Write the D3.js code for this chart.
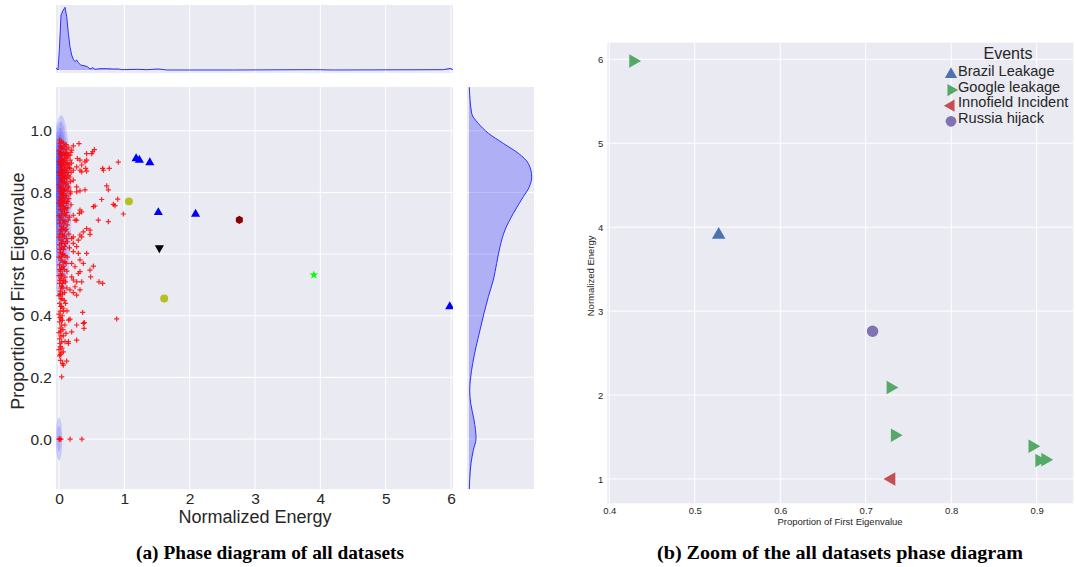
<!DOCTYPE html>
<html>
<head>
<meta charset="utf-8">
<script src="https://cdn.jsdelivr.net/npm/d3@7/dist/d3.min.js"></script>
<style>
    body { margin: 0; background: #fff; }
    svg text { font-family: "Liberation Sans", Arial, sans-serif; fill: #262626; }
    .caption { font-family: "Liberation Serif", "Times New Roman", serif !important; font-weight: bold; fill: #000 !important; }
</style>
</head>
<body>
<svg id="chart" width="1075" height="567"></svg>
<script>
// ---- tick labels
const energyTicks = [0, 1, 2, 3, 4, 5, 6];
const propTicks = [0.0, 0.2, 0.4, 0.6, 0.8, 1.0];
const zoomXTicks = [0.4, 0.5, 0.6, 0.7, 0.8, 0.9];
const zoomYTicks = [1, 2, 3, 4, 5, 6];

// ---- (a) all datasets: [normalized energy, proportion of first eigenvalue]
const plusCore = [
    [0.01,0.97],[0.04,0.965],[0.07,0.96],[0.02,0.95],[0.05,0.945],[0.09,0.95],[0.12,0.94],[0.0,0.935],
    [0.03,0.93],[0.06,0.925],[0.1,0.93],[0.14,0.92],[0.02,0.915],[0.05,0.91],[0.08,0.905],[0.11,0.91],
    [0.0,0.9],[0.03,0.895],[0.06,0.89],[0.13,0.895],[0.09,0.885],[0.02,0.88],[0.05,0.875],[0.16,0.88],
    [0.11,0.87],[0.0,0.865],[0.04,0.86],[0.07,0.855],[0.1,0.85],[0.14,0.855],[0.02,0.845],[0.05,0.84],
    [0.08,0.835],[0.12,0.83],[0.0,0.825],[0.03,0.82],[0.06,0.815],[0.09,0.81],[0.15,0.815],[0.01,0.805],
    [0.04,0.8],[0.07,0.795],[0.11,0.79],[0.02,0.785],[0.05,0.78],[0.08,0.775],[0.13,0.77],[0.0,0.765],
    [0.03,0.76],[0.06,0.755],[0.1,0.75],[0.02,0.745],[0.05,0.74],[0.08,0.73],[0.12,0.735],[0.0,0.725],
    [0.03,0.72],[0.06,0.71],[0.09,0.705],[0.14,0.71],[0.01,0.7],[0.04,0.69],[0.07,0.685],[0.11,0.68],
    [0.02,0.675],[0.05,0.665],[0.08,0.66],[0.0,0.655],[0.03,0.645],[0.06,0.64],[0.1,0.635],[0.13,0.64],
    [0.01,0.63],[0.04,0.62],[0.07,0.615],[0.02,0.605],[0.05,0.6],[0.09,0.595],[0.0,0.59],[0.03,0.58],
    [0.06,0.575],[0.11,0.57],[0.01,0.565],[0.04,0.555],[0.08,0.55],[0.02,0.545],[0.05,0.535],[0.0,0.53],
    [0.03,0.52],[0.07,0.515],[0.1,0.51],[0.01,0.505],[0.04,0.495],[0.06,0.49],[0.02,0.48],[0.05,0.47],
    [0.0,0.465],[0.03,0.455],[0.08,0.45],[0.01,0.44],[0.04,0.43],[0.06,0.425],[0.02,0.415],[0.0,0.405],
    [0.05,0.4],[0.03,0.39],[0.01,0.38],[0.04,0.37],[0.02,0.36],[0.06,0.355],[0.0,0.345],[0.03,0.335],
    [0.01,0.325],[0.04,0.315],[0.02,0.3],[0.0,0.29],[0.03,0.28],[0.01,0.27],
    [0.0,0.0],[0.01,0.0],[0.03,0.0],[0.17,0.0],[0.35,0.0]
];
const plusCoreOuter = [
    [0.015,0.96],[0.035,0.945],[0.075,0.94],[0.11,0.955],[0.15,0.945],[0.18,0.93],[0.015,0.925],[0.045,0.92],
    [0.085,0.92],[0.125,0.915],[0.17,0.905],[0.035,0.905],[0.07,0.9],[0.105,0.895],[0.15,0.89],[0.19,0.895],
    [0.015,0.89],[0.045,0.885],[0.08,0.875],[0.125,0.88],[0.185,0.865],[0.03,0.87],[0.06,0.865],[0.095,0.86],
    [0.135,0.865],[0.165,0.85],[0.015,0.855],[0.05,0.85],[0.085,0.845],[0.12,0.845],[0.175,0.835],[0.035,0.835],
    [0.065,0.83],[0.1,0.825],[0.14,0.82],[0.015,0.815],[0.045,0.81],[0.08,0.805],[0.125,0.805],[0.17,0.795],
    [0.03,0.795],[0.06,0.79],[0.095,0.785],[0.15,0.78],[0.015,0.775],[0.04,0.77],[0.07,0.765],[0.115,0.765],
    [0.185,0.76],[0.025,0.755],[0.085,0.745],[0.135,0.75],[0.045,0.73],[0.105,0.725],[0.16,0.72],[0.015,0.71],
    [0.075,0.7],[0.125,0.695],[0.035,0.68],[0.095,0.675],[0.15,0.665],[0.015,0.665],[0.06,0.655],[0.115,0.65],
    [0.04,0.635],[0.085,0.625],[0.16,0.62],[0.015,0.615],[0.06,0.6],[0.125,0.59],[0.035,0.59],[0.09,0.575],
    [0.015,0.55],[0.065,0.56],[0.12,0.545],[0.035,0.53],[0.09,0.525],[0.015,0.515],[0.055,0.505],[0.12,0.49],
    [0.03,0.49],[0.085,0.475],[0.015,0.47],[0.045,0.455],[0.1,0.44],[0.025,0.43],[0.07,0.415],[0.015,0.395],
    [0.05,0.385],[0.09,0.37],[0.025,0.35],[0.065,0.335],[0.015,0.31],[0.045,0.295],[0.025,0.255],[0.055,0.245]
];
const plusSpread = [
    [0.306,0.958],[0.219,0.951],[0.194,0.937],[0.117,0.926],[0.168,0.921],[0.281,0.910],[0.321,0.905],
    [0.423,0.905],[0.541,0.939],[0.515,0.932],[0.500,0.926],[0.423,0.926],[0.398,0.899],[0.347,0.889],
    [0.270,0.883],[0.219,0.872],[0.168,0.878],[0.408,0.878],[0.321,0.872],[0.347,0.867],[0.423,0.869],
    [0.668,0.878],[0.770,0.878],[0.679,0.872],[0.908,0.898],[0.219,0.840],[0.270,0.818],[0.321,0.805],
    [0.398,0.808],[0.270,0.802],[0.179,0.802],[0.730,0.821],[0.755,0.808],[0.898,0.778],[0.832,0.761],
    [0.857,0.757],[0.653,0.777],[0.551,0.756],[0.526,0.754],[0.985,0.730],[0.321,0.743],[0.347,0.737],
    [0.311,0.732],[0.219,0.726],[0.270,0.710],[0.245,0.710],[0.602,0.710],[0.755,0.705],[0.423,0.683],
    [0.474,0.678],[0.372,0.672],[0.321,0.662],[0.347,0.656],[0.219,0.656],[0.296,0.645],[0.194,0.651],
    [0.474,0.664],[0.219,0.635],[0.270,0.624],[0.423,0.602],[0.296,0.602],[0.219,0.608],[0.321,0.581],
    [0.372,0.570],[0.194,0.570],[0.245,0.559],[0.526,0.561],[0.474,0.548],[0.321,0.543],[0.296,0.537],
    [0.194,0.526],[0.219,0.516],[0.270,0.510],[0.347,0.510],[0.485,0.526],[0.612,0.510],[0.668,0.505],
    [0.245,0.494],[0.168,0.484],[0.219,0.475],[0.321,0.484],[0.270,0.467],
    [0.883,0.390],[0.362,0.411],[0.372,0.375],[0.383,0.359],[0.270,0.370],[0.270,0.321],[0.143,0.316],
    [0.117,0.253],[0.066,0.240],[0.041,0.202],[0.020,0.275],[0.122,0.416],[0.148,0.386],[0.168,0.389],
    [0.388,0.378],[0.194,0.348],[0.107,0.343],[0.066,0.283],[0.092,0.316],[0.143,0.31]
];
const eventsTriUp = [[1.18,0.91],[1.23,0.905],[1.39,0.897],[1.52,0.735],[2.09,0.73],[5.98,0.43]];
const eventsCircle = [[1.07,0.771],[1.61,0.456]];
const eventsTriDown = [[1.536,0.62]];
const eventsHex = [[2.76,0.711]];
const eventsStar = [[3.90,0.532]];

// kde shading levels: [centre energy, centre proportion, half width, half height]
const kdeLevels = [
    [0.03,0.75,0.16,0.30],[0.025,0.77,0.13,0.26],[0.02,0.79,0.105,0.22],[0.015,0.81,0.08,0.18],
    [0.01,0.83,0.06,0.14],[0.005,0.85,0.04,0.10],[0.0,0.87,0.025,0.06],
    [0.0,0.0,0.05,0.07],[0.0,0.0,0.028,0.042]
];

// marginal densities
const energyDensity = [
    [-0.046,0.037],[-0.015,0.0],[0.005,0.319],[0.031,0.878],[0.066,0.957],[0.092,1.0],[0.118,0.851],
    [0.143,0.585],[0.168,0.372],[0.194,0.239],[0.219,0.17],[0.245,0.133],[0.271,0.16],[0.296,0.117],
    [0.332,0.08],[0.398,0.064],[0.434,0.053],[0.475,0.016],[0.516,0.037],[0.551,0.011],[0.628,0.021],
    [0.730,0.021],[0.832,0.016],[0.908,0.016],[0.960,0.005],[1.19,0.011],[1.343,0.005],[1.521,0.016],
    [1.649,0.0],[2.67,0.0],[3.895,0.005],[4.2,0.0],[5.885,0.005],[5.962,0.021],[5.988,0.027],[6.03,0.005]
];
const propDensity = [
    [1.141,0.005],[1.056,0.043],[1.024,0.149],[0.992,0.309],[0.959,0.548],[0.927,0.787],[0.894,0.947],
    [0.851,1.0],[0.818,0.963],[0.786,0.867],[0.732,0.707],[0.678,0.574],[0.624,0.495],[0.570,0.441],
    [0.516,0.388],[0.462,0.309],[0.408,0.239],[0.354,0.176],[0.299,0.112],[0.245,0.059],[0.191,0.021],
    [0.159,0.011],[0.116,0.027],[0.062,0.080],[0.002,0.112],[-0.036,0.069],[-0.079,0.032],[-0.133,0.011],
    [-0.163,0.005]
];

// ---- (b) zoom: [proportion of first eigenvalue, normalized energy]
const eventNames = ["Brazil Leakage", "Google leakage", "Innofield Incident", "Russia hijack"];
const brazil = [[0.528,3.91]];
const google = [[0.428,5.98],[0.729,2.09],[0.734,1.52],[0.895,1.39],[0.903,1.22],[0.910,1.23]];
const innofield = [[0.730,1.0]];
const russia = [[0.708,2.76]];

const bg = "#EAEAF2";
const svg = d3.select("#chart");

// hexagon marker (pointy top)
const symbolHexagon = {
    draw(ctx, size) {
        const r = Math.sqrt(2 * size / (3 * Math.sqrt(3)));
        for (let i = 0; i < 6; i++) {
            const a = -Math.PI / 2 + i * Math.PI / 3;
            if (i === 0) ctx.moveTo(r * Math.cos(a), r * Math.sin(a));
            else ctx.lineTo(r * Math.cos(a), r * Math.sin(a));
        }
        ctx.closePath();
    }
};

function panel(id, x0, y0, x1, y1) {
    svg.append("rect").attr("x", x0).attr("y", y0).attr("width", x1 - x0).attr("height", y1 - y0).attr("fill", bg);
    svg.append("clipPath").attr("id", id).append("rect")
        .attr("x", x0).attr("y", y0).attr("width", x1 - x0).attr("height", y1 - y0);
}

// ================= (a) phase diagram =================
const xE = d3.scaleLinear().domain([-0.046, 6.03]).range([56, 453]);
const yP = d3.scaleLinear().domain([-0.162, 1.142]).range([489, 87]);
const yTop = d3.scaleLinear().domain([-0.048, 1.037]).range([73, 5]);
const xRight = d3.scaleLinear().domain([-0.032, 1.037]).range([467, 534]);

panel("clipMain", 56, 87, 453, 489);
panel("clipTop", 56, 5, 453, 73);
panel("clipRight", 467, 87, 534, 489);

// grids
svg.append("g").selectAll("line").data(energyTicks).join("line")
    .attr("x1", d => xE(d)).attr("x2", d => xE(d)).attr("y1", 87).attr("y2", 489)
    .attr("stroke", "#fff").attr("stroke-width", 1);
svg.append("g").selectAll("line").data(propTicks).join("line")
    .attr("x1", 56).attr("x2", 453).attr("y1", d => yP(d)).attr("y2", d => yP(d))
    .attr("stroke", "#fff").attr("stroke-width", 1);
svg.append("g").selectAll("line").data(energyTicks).join("line")
    .attr("x1", d => xE(d)).attr("x2", d => xE(d)).attr("y1", 5).attr("y2", 73)
    .attr("stroke", "#fff").attr("stroke-width", 1);
svg.append("g").selectAll("line").data(propTicks).join("line")
    .attr("x1", 467).attr("x2", 534).attr("y1", d => yP(d)).attr("y2", d => yP(d))
    .attr("stroke", "#fff").attr("stroke-width", 1);

// kde shading
const mainG = svg.append("g").attr("clip-path", "url(#clipMain)");
mainG.append("g").selectAll("ellipse").data(kdeLevels).join("ellipse")
    .attr("cx", d => xE(d[0])).attr("cy", d => yP(d[1]))
    .attr("rx", d => xE(d[0] + d[2]) - xE(d[0]))
    .attr("ry", d => yP(d[1] - d[3]) - yP(d[1]))
    .attr("fill", "blue").attr("fill-opacity", 0.15);

// red plus scatter
mainG.append("g").selectAll("path").data(plusCore.concat(plusCoreOuter, plusSpread)).join("path")
    .attr("transform", d => `translate(${xE(d[0])},${yP(d[1])})`)
    .attr("d", "M-2.6,0H2.6M0,-2.6V2.6")
    .attr("stroke", "red").attr("stroke-width", 1.2).attr("stroke-opacity", 0.85);

function markers(g, data, sx, sy, type, size, color, rot) {
    g.append("g").selectAll("path").data(data).join("path")
        .attr("transform", d => `translate(${sx(d[0])},${sy(d[1])}) rotate(${rot || 0})`)
        .attr("d", d3.symbol().type(type).size(size))
        .attr("fill", color);
}
markers(mainG, eventsTriUp, xE, yP, d3.symbolTriangle, 36, "#0000ff");
markers(mainG, eventsCircle, xE, yP, d3.symbolCircle, 50, "#b5c11f");
markers(mainG, eventsTriDown, xE, yP, d3.symbolTriangle, 36, "#000000", 180);
markers(mainG, eventsHex, xE, yP, symbolHexagon, 42, "#8b0000");
markers(mainG, eventsStar, xE, yP, d3.symbolStar, 24, "#00ff00");

// top marginal
const topG = svg.append("g").attr("clip-path", "url(#clipTop)");
topG.append("path").datum(energyDensity)
    .attr("d", d3.area().x(d => xE(d[0])).y0(yTop(0)).y1(d => yTop(d[1])))
    .attr("fill", "blue").attr("fill-opacity", 0.25);
topG.append("path").datum(energyDensity)
    .attr("d", d3.line().x(d => xE(d[0])).y(d => yTop(d[1])))
    .attr("fill", "none").attr("stroke", "#2f2fff").attr("stroke-width", 1);

// right marginal
const rightG = svg.append("g").attr("clip-path", "url(#clipRight)");
rightG.append("path").datum(propDensity)
    .attr("d", d3.area().curve(d3.curveMonotoneY).y(d => yP(d[0])).x0(xRight(0)).x1(d => xRight(d[1])))
    .attr("fill", "blue").attr("fill-opacity", 0.25);
rightG.append("path").datum(propDensity)
    .attr("d", d3.line().curve(d3.curveMonotoneY).y(d => yP(d[0])).x(d => xRight(d[1])))
    .attr("fill", "none").attr("stroke", "#2f2fff").attr("stroke-width", 1);

// axes
const axA = svg.append("g").attr("transform", "translate(0,489)")
    .call(d3.axisBottom(xE).tickValues(energyTicks).tickSize(0).tickPadding(4).tickFormat(d3.format("d")));
const ayA = svg.append("g").attr("transform", "translate(56,0)")
    .call(d3.axisLeft(yP).tickValues(propTicks).tickSize(0).tickPadding(4).tickFormat(d3.format(".1f")));
[axA, ayA].forEach(a => {
    a.select(".domain").remove();
    a.selectAll("text").attr("font-size", 15.5).attr("fill", "#262626");
});
svg.append("text").attr("x", xE(3)).attr("y", 523).attr("text-anchor", "middle")
    .attr("font-size", 18).text("Normalized Energy");
svg.append("text").attr("transform", `translate(24,${yP(0.48)}) rotate(-90)`).attr("text-anchor", "middle")
    .attr("font-size", 18).text("Proportion of First Eigenvalue");

// ================= (b) zoom =================
const xZ = d3.scaleLinear().domain([0.3977, 0.9428]).range([607.3, 1073.3]);
const yZ = d3.scaleLinear().domain([0.71, 6.198]).range([503.3, 42.7]);
panel("clipZoom", 607.3, 42.7, 1073.3, 503.3);
svg.append("g").selectAll("line").data(zoomXTicks).join("line")
    .attr("x1", d => xZ(d)).attr("x2", d => xZ(d)).attr("y1", 42.7).attr("y2", 503.3)
    .attr("stroke", "#fff").attr("stroke-width", 1);
svg.append("g").selectAll("line").data(zoomYTicks).join("line")
    .attr("x1", 607.3).attr("x2", 1073.3).attr("y1", d => yZ(d)).attr("y2", d => yZ(d))
    .attr("stroke", "#fff").attr("stroke-width", 1);

const zoomG = svg.append("g").attr("clip-path", "url(#clipZoom)");
const deep = { blue: "#4C72B0", green: "#55A868", red: "#C44E52", purple: "#8172B2" };
markers(zoomG, brazil, xZ, yZ, d3.symbolTriangle, 80, deep.blue);
markers(zoomG, google, xZ, yZ, d3.symbolTriangle, 80, deep.green, 90);
markers(zoomG, innofield, xZ, yZ, d3.symbolTriangle, 80, deep.red, -90);
markers(zoomG, russia, xZ, yZ, d3.symbolCircle, 105, deep.purple);

const axB = svg.append("g").attr("transform", "translate(0,503.3)")
    .call(d3.axisBottom(xZ).tickValues(zoomXTicks).tickSize(0).tickPadding(4).tickFormat(d3.format(".1f")));
const ayB = svg.append("g").attr("transform", "translate(607.3,0)")
    .call(d3.axisLeft(yZ).tickValues(zoomYTicks).tickSize(0).tickPadding(4).tickFormat(d3.format("d")));
[axB, ayB].forEach(a => {
    a.select(".domain").remove();
    a.selectAll("text").attr("font-size", 9.5).attr("fill", "#333");
});
svg.append("text").attr("x", xZ(0.67)).attr("y", 525).attr("text-anchor", "middle")
    .attr("font-size", 9.5).attr("fill", "#333").text("Proportion of First Eigenvalue");
svg.append("text").attr("transform", `translate(594,${yZ(3.42)}) rotate(-90)`).attr("text-anchor", "middle")
    .attr("font-size", 9.5).attr("fill", "#333").text("Normalized Energy");

// legend
const legend = svg.append("g");
legend.append("text").attr("x", 1008).attr("y", 59).attr("text-anchor", "middle")
    .attr("font-size", 16).text("Events");
const legendMarks = [
    [d3.symbolTriangle, deep.blue, 0, 66],
    [d3.symbolTriangle, deep.green, 90, 66],
    [d3.symbolTriangle, deep.red, -90, 66],
    [d3.symbolCircle, deep.purple, 0, 90]
];
eventNames.forEach((name, i) => {
    const y = 71 + i * 15.6;
    const m = legendMarks[i];
    legend.append("path").attr("transform", `translate(951,${y + 3.5}) rotate(${m[2]})`)
        .attr("d", d3.symbol().type(m[0]).size(m[3])).attr("fill", m[1]);
    legend.append("text").attr("x", 958).attr("y", y).attr("dy", "0.35em")
        .attr("font-size", 14.6).text(name);
});

// captions
svg.append("text").attr("class", "caption").attr("x", 270).attr("y", 559).attr("text-anchor", "middle")
    .attr("font-size", 19).attr("textLength", 268).attr("lengthAdjust", "spacingAndGlyphs")
    .text("(a) Phase diagram of all datasets");
svg.append("text").attr("class", "caption").attr("x", 840).attr("y", 559).attr("text-anchor", "middle")
    .attr("font-size", 19).attr("textLength", 366).attr("lengthAdjust", "spacingAndGlyphs")
    .text("(b) Zoom of the all datasets phase diagram");
</script>
</body>
</html>
